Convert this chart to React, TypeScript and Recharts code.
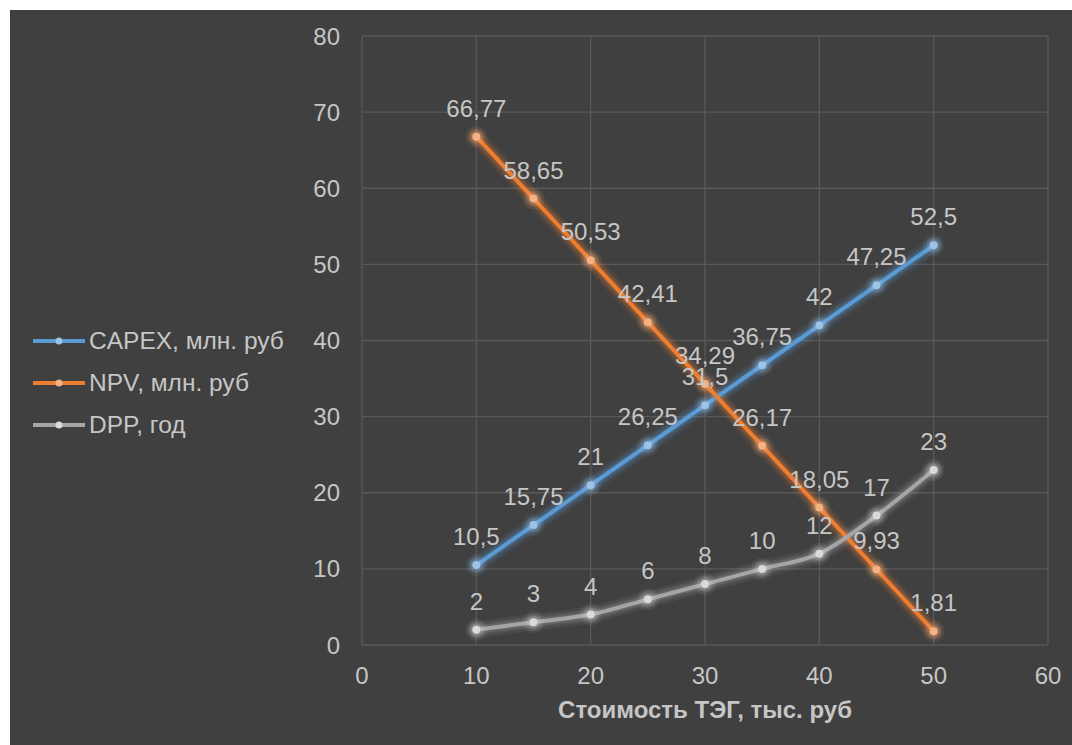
import React from "react";
import { LineChart, Line, XAxis, YAxis, CartesianGrid, LabelList } from "recharts";

const xValues = [10, 15, 20, 25, 30, 35, 40, 45, 50];
const capex = [10.5, 15.75, 21, 26.25, 31.5, 36.75, 42, 47.25, 52.5];
const npv = [66.77, 58.65, 50.53, 42.41, 34.29, 26.17, 18.05, 9.93, 1.81];
const dpp = [2, 3, 4, 6, 8, 10, 12, 17, 23];
const xTicks = [0, 10, 20, 30, 40, 50, 60];
const yTicks = [0, 10, 20, 30, 40, 50, 60, 70, 80];

const seriesNames = {
  capex: "CAPEX, млн. руб",
  npv: "NPV, млн. руб",
  dpp: "DPP, год",
};

const data = xValues.map((x, i) => ({ x, capex: capex[i], npv: npv[i], dpp: dpp[i] }));

const FONT = "'Liberation Sans', Arial, sans-serif";
const TEXT = "#c6c6c6";
const GRID = "#595959";
const BG = "#404040";

const series = [
  { key: "capex", name: seriesNames.capex, color: "#5b9bd5", dot: "#9dc3e6" },
  { key: "npv", name: seriesNames.npv, color: "#ed7d31", dot: "#f4b183" },
  { key: "dpp", name: seriesNames.dpp, color: "#a5a5a5", dot: "#dadada" },
];

const halos = [
  { w: 17, o: 0.09, r: 11 },
  { w: 12, o: 0.14, r: 8.5 },
  { w: 8, o: 0.2, r: 6.5 },
];

const fmt = (v: any) => String(v).replace(".", ",");

export default function App() {
  return (
    <div
      style={{
        position: "absolute",
        left: 10,
        top: 10,
        width: 1062,
        height: 735,
        background: BG,
        fontFamily: FONT,
      }}
    >
      <LineChart
        width={1062}
        height={735}
        data={data}
        margin={{ top: 26, right: 24, left: 292, bottom: 0 }}
      >
        <CartesianGrid stroke={GRID} strokeWidth={1.3} vertical horizontal />
        <XAxis
          dataKey="x"
          type="number"
          domain={[0, 60]}
          ticks={xTicks}
          interval={0}
          axisLine={false}
          tickLine={false}
          tickSize={0}
          tickMargin={22}
          height={100}
          tick={{ fill: TEXT, fontSize: 24, fontFamily: FONT }}
          label={{
            value: "Стоимость ТЭГ, тыс. руб",
            position: "insideBottom",
            offset: 27,
            fill: TEXT,
            fontSize: 24,
            fontWeight: "bold",
            fontFamily: FONT,
          }}
        />
        <YAxis
          type="number"
          domain={[0, 80]}
          ticks={yTicks}
          interval={0}
          axisLine={false}
          tickLine={false}
          tickSize={0}
          tickMargin={22}
          width={60}
          tick={{ fill: TEXT, fontSize: 24, fontFamily: FONT }}
        />
        {series.flatMap((s) =>
          halos.map((h, hi) => (
            <Line
              key={`${s.key}-halo-${hi}`}
              dataKey={s.key}
              type="monotone"
              stroke={s.color}
              strokeOpacity={h.o}
              strokeWidth={h.w}
              strokeLinecap="round"
              dot={{ r: h.r, fill: s.dot, fillOpacity: h.o * 0.9, stroke: "none" }}
              activeDot={false}
              legendType="none"
              isAnimationActive={false}
            />
          ))
        )}
        {series.map((s) => (
          <Line
            key={s.key}
            dataKey={s.key}
            name={s.name}
            type="monotone"
            stroke={s.color}
            strokeWidth={4}
            dot={{ r: 4, fill: s.dot, stroke: "none" }}
            activeDot={false}
            isAnimationActive={false}
          >
            <LabelList
              dataKey={s.key}
              position="top"
              offset={20}
              formatter={fmt}
              fill={TEXT}
              fontSize={24}
              fontFamily={FONT}
            />
          </Line>
        ))}
      </LineChart>
      <div style={{ position: "absolute", left: 23, top: 310, fontFamily: FONT }}>
        {series.map((s) => (
          <div key={s.key} style={{ display: "flex", alignItems: "center", height: 42 }}>
            <svg width={56} height={12} style={{ display: "block" }}>
              <line x1={0} y1={6} x2={52} y2={6} stroke={s.color} strokeWidth={4} />
              <circle cx={26} cy={6} r={3.5} fill={s.dot} />
            </svg>
            <span style={{ color: TEXT, fontSize: 24.5, lineHeight: "42px" }}>{s.name}</span>
          </div>
        ))}
      </div>
    </div>
  );
}
